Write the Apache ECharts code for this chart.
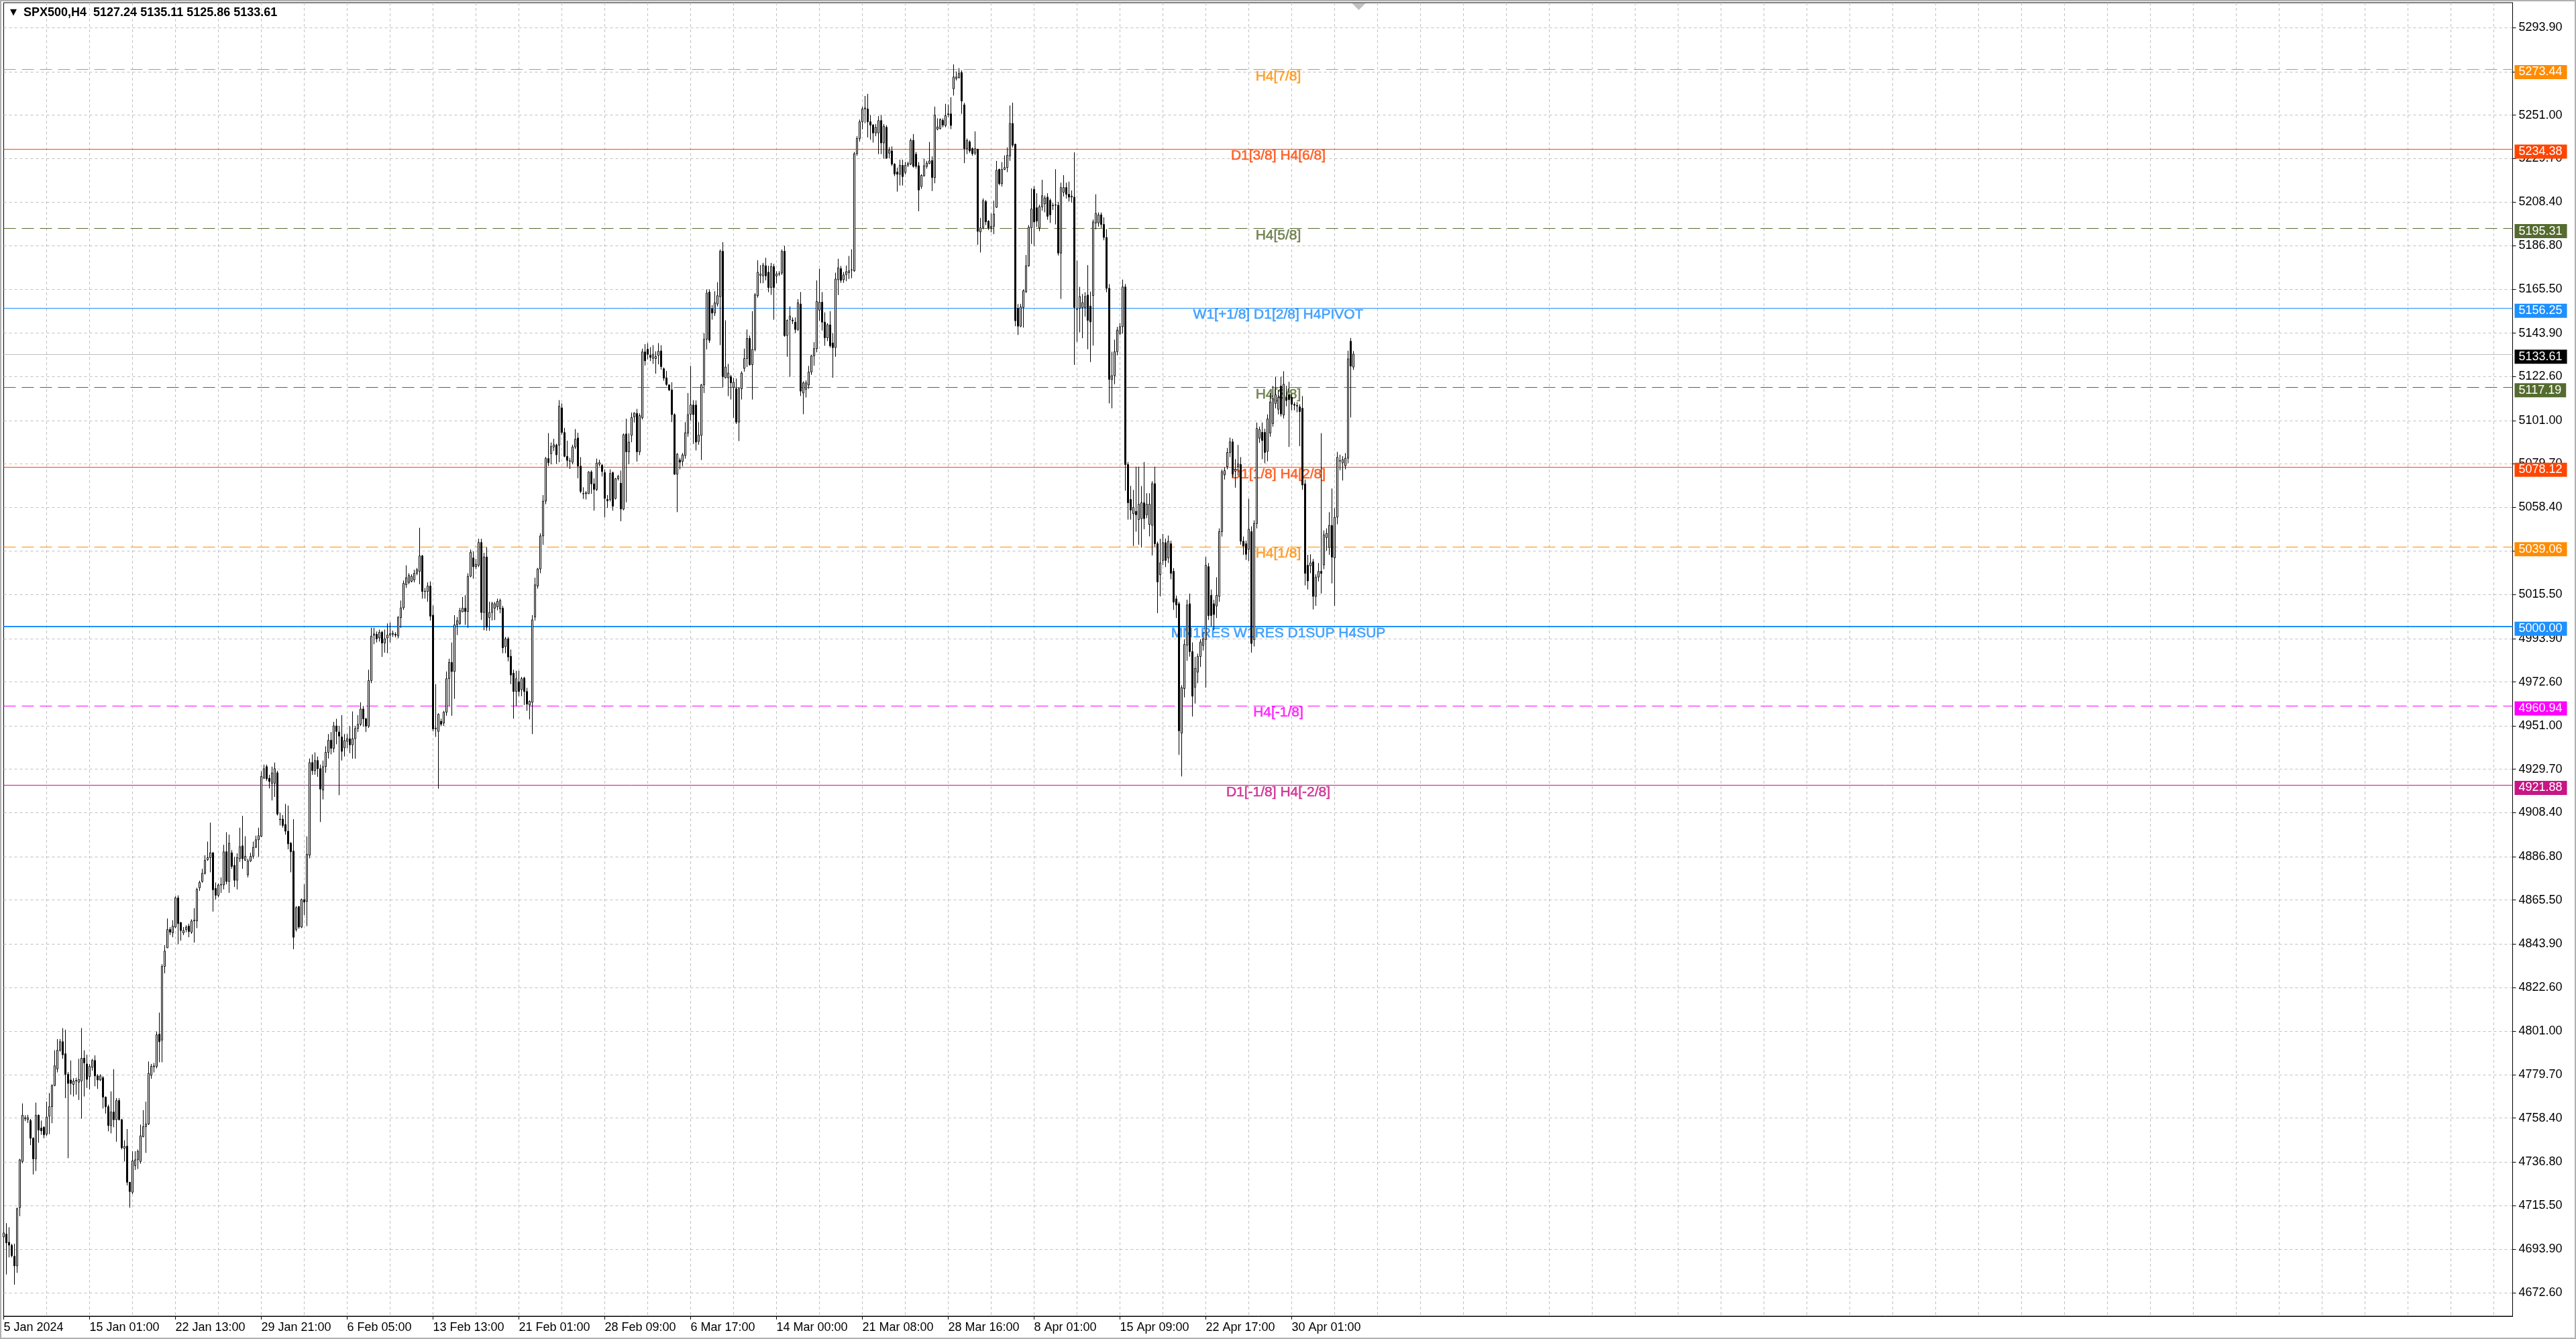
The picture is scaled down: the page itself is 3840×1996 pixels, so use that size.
<!DOCTYPE html>
<html>
<head>
<meta charset="utf-8">
<script src="https://cdn.jsdelivr.net/npm/echarts@6/dist/echarts.min.js"></script>
<style>html,body{margin:0;padding:0;background:#fff}#c{width:3840px;height:1996px}</style>
</head>
<body>
<div id="c"></div>
<script>
const symbolName = 'SPX500,H4';
const dateLabels = ['5 Jan 2024','15 Jan 01:00','22 Jan 13:00','29 Jan 21:00','6 Feb 05:00','13 Feb 13:00','21 Feb 01:00','28 Feb 09:00','6 Mar 17:00','14 Mar 00:00','21 Mar 08:00','28 Mar 16:00','8 Apr 01:00','15 Apr 09:00','22 Apr 17:00','30 Apr 01:00'];
const yTicks = [4672.6,4693.9,4715.5,4736.8,4758.4,4779.7,4801.0,4822.6,4843.9,4865.5,4886.8,4908.4,4929.7,4951.0,4972.6,4993.9,5015.5,5036.8,5058.4,5079.7,5101.0,5122.6,5143.9,5165.5,5186.8,5208.4,5229.7,5251.0,5272.3,5293.9];
const levelPrices = [5273.44,5234.38,5195.31,5156.25,5117.19,5078.12,5039.06,5000.00,4960.94,4921.88];
const levelNames = ['H4[7/8]','D1[3/8] H4[6/8]','H4[5/8]','W1[+1/8] D1[2/8] H4PIVOT','H4[3/8]','D1[1/8] H4[2/8]','H4[1/8]','MN1RES W1RES D1SUP H4SUP','H4[-1/8]','D1[-1/8] H4[-2/8]'];
const levelColors = ['#FF8C00','#FF4500','#556B2F','#1E90FF','#556B2F','#FF4500','#FF8C00','#1E90FF','#FF00FF','#C71585'];
const levelDashed = [true,false,true,false,true,false,true,false,true,false];
// H4 candles: [open, close, low, high]
const candles = [
[4700,4702,4682,4722],[4701.4,4697.1,4681.6,4706.8],[4697.4,4696,4690,4704.8],[4695.9,4690.8,4690,4696.7],[4690.5,4685.8,4676.6,4696.7],[4685.8,4713.9,4682.4,4714.4],[4714.4,4737.9,4710.2,4738.4],[4737.1,4759.8,4736.2,4765.6],
[4758,4758.6,4756.9,4759.8],[4757.6,4758.6,4756,4760],[4757.2,4748.5,4745.1,4758],[4748.5,4738.4,4730.7,4749],[4738.4,4759.8,4732.4,4766],[4759.8,4752.5,4746.3,4760.2],[4753.5,4752.2,4750.2,4757.2],[4753.9,4750.2,4748.5,4754.4],
[4750.5,4758.9,4749.7,4766.5],[4759.3,4764,4750.5,4770.7],[4764,4774.4,4755.9,4775],[4774.4,4784.1,4774,4791.7],[4782.5,4791.7,4780.8,4797.2],[4791.7,4795.9,4791,4797.2],[4795.9,4789.5,4787.5,4802.6],[4790,4779.9,4768.2,4801.8],
[4779.9,4775.4,4738.7,4781],[4777.1,4775.4,4769.9,4786.7],[4774.9,4776.6,4769,4778],[4776.6,4776.9,4769.9,4778.2],[4776,4777.4,4767.3,4787.5],[4776.6,4787.8,4758.1,4802.6],[4787.8,4785.5,4769,4791.7],[4785,4777.4,4773.2,4789.5],
[4778.8,4783.8,4772.4,4785],[4783.3,4786.7,4781.6,4787.5],[4786.7,4779.1,4774,4789.2],[4779.1,4777.1,4772.7,4780],[4777.1,4779.1,4776.6,4779.9],[4778.2,4768.7,4763.1,4779],[4768.7,4764,4760.6,4769],[4764,4754.7,4751.9,4765],
[4754.7,4761.4,4750.9,4771.5],[4761.4,4757.6,4753.9,4782.4],[4757.6,4767,4746.8,4768.2],[4767,4757.6,4757.2,4768.2],[4757.6,4743.8,4743,4758],[4743.5,4744.5,4737.1,4747.5],[4744.6,4726.9,4725.3,4753],[4726.9,4722.3,4714.4,4727],
[4722,4737.4,4721.1,4742.1],[4735,4737.9,4732.9,4742.1],[4737.9,4742.1,4733.4,4743],[4737.1,4749.7,4736,4755.2],[4749.2,4754.2,4749,4762.3],[4754.2,4755.5,4741.3,4766.5],[4755.5,4780.4,4755,4786.2],[4779.4,4783.8,4777.7,4785],
[4783.6,4784,4780.8,4785.5],[4783.8,4799.3,4782.8,4800.9],[4799.6,4795.9,4785.8,4810.2],[4796.7,4832.9,4785.8,4834],[4832.9,4840.4,4829.5,4843.3],[4842,4851,4842,4856.4],[4851,4849.7,4848.3,4852.2],[4849.4,4852.7,4847.2,4855.6],
[4852.2,4866.5,4851.7,4867.3],[4866.5,4853.9,4843.8,4867.8],[4854.4,4850.5,4845.5,4854.7],[4849.4,4850.5,4848.3,4852.2],[4851,4852.2,4849.7,4853.1],[4852.7,4850,4847.2,4853.9],[4849.7,4855.2,4848.9,4856],[4855.2,4855.6,4844.6,4861.5],
[4855.2,4870.7,4851.7,4871.5],[4871.5,4874.1,4870,4875],[4874.6,4878.6,4874,4880.8],[4878.6,4885,4878,4887.5],[4885.3,4886.3,4884.7,4894.2],[4886.3,4888.7,4879.1,4903.5],[4888.7,4870.5,4859.8,4889],[4871.2,4867.8,4865.7,4874.1],
[4867.8,4872.9,4866.8,4873.5],[4872.9,4873.1,4869,4876.6],[4872.9,4889.2,4870.7,4892.6],[4889.2,4874.6,4873.2,4898.8],[4874.6,4893.4,4869,4897.6],[4888.7,4882,4880.8,4890],[4882.5,4875.2,4871.9,4886.7],[4875.2,4886.3,4870.7,4888.4],
[4885.8,4891.7,4884.2,4901],[4892.1,4885.8,4880.8,4906.8],[4885,4887,4884.7,4896.8],[4877.9,4884.7,4876.6,4885.8],[4884.7,4887,4884.2,4888.7],[4887,4891.4,4885.8,4894.2],[4891.4,4895.1,4891,4897.1],[4895.1,4897.1,4886.7,4901],
[4896.8,4926.2,4896.4,4928.7],[4925.3,4930,4925,4932],[4931,4925,4924,4932],[4925.3,4923.7,4920.3,4927],[4922.8,4927.9,4914.4,4931],[4922.8,4930,4916.1,4933],[4928,4907.7,4907,4929],[4905.2,4905,4902.1,4908.5],
[4905.2,4902.1,4901,4907.2],[4902.6,4899.3,4897.6,4912.7],[4899.3,4893.1,4890.4,4911.9],[4893.4,4889.2,4879.1,4894],[4889.5,4847.2,4841.3,4905.2],[4851,4861.8,4850,4862.5],[4862.3,4852.2,4851.4,4862.5],[4852.2,4865.7,4851.7,4866.2],
[4865.7,4864.5,4858.1,4873.2],[4864.8,4888,4852.7,4896.8],[4887.5,4933,4886,4935],[4933,4929,4927,4937],[4929,4934,4927,4938],[4934,4930,4926,4936],[4930,4920,4903.8,4932],[4919.5,4931,4914.9,4934],
[4931,4938,4928,4941],[4938,4944,4935,4947],[4944,4940,4937,4948],[4940,4951,4938,4953],[4951,4948.3,4942,4954.5],[4948,4946,4917,4951],[4945.6,4938.5,4934,4956.3],[4940.2,4943.8,4936,4947],
[4943.4,4944.7,4940,4947],[4944.7,4941.7,4937.6,4950.9],[4941.7,4944.7,4934.9,4958.1],[4944.7,4949.7,4934.9,4951],[4949.7,4951.8,4948,4956.3],[4951.8,4959.3,4951,4962.6],[4959.3,4954.5,4950.6,4960.8],[4954.5,4950.9,4948,4955],
[4950.9,4973.3,4950,4978.6],[4973.3,4995.1,4972,4999.2],[4995.5,4996.2,4991.1,4999.2],[4996,4993.8,4992,4997.4],[4994.2,4997,4992.4,4998.3],[4997,4991.7,4984.9,4997.7],[4991.7,4993.8,4987,4998.3],[4994.2,4995.6,4986.7,5001.3],
[4995.6,4996.3,4992,5001.8],[4996,4996.5,4994.7,4997.8],[4996,4995.6,4994.5,4997],[4995.2,5004.2,4994,5005],[5004.2,5009,4999.2,5012.6],[5009,5021,5008,5022.4],[5020.3,5023.8,5018.8,5029.9],[5021.5,5024.9,5020.6,5026],
[5022,5024.5,5021.5,5025.5],[5022.7,5025.9,5021.5,5027.7],[5026,5027.7,5025,5028.6],[5026.9,5034.5,5020.6,5048.3],[5034.5,5017,5013.5,5035],[5017,5017.2,5013.5,5018.8],[5017,5019.7,5012,5021.5],[5019.7,5004.9,5002.7,5022],
[5005.4,4949.5,4948.3,5010.2],[4949.5,4950,4945.6,4971.5],[4948.3,4956.7,4920.2,4957.2],[4953.3,4951.8,4950.9,4954.6],[4952.4,4957.7,4951,4958.4],[4957.7,4974.2,4956,4977.7],[4974.2,4982.2,4960.8,4984],[4982.2,4977.7,4956,4992],
[4977.7,5000.6,4964.3,5005.4],[5000.6,5002.7,4995.6,5004.5],[5001.3,5007.7,5000.6,5009],[5007,5008.8,5007,5014.3],[5008.8,5007.2,5000.6,5015.2],[5007.2,5024.5,4999.2,5026],[5024.5,5036.3,5024,5037.6],[5033.5,5029.2,5023.3,5036.7],
[5029.2,5030.4,5028,5033],[5029.9,5041.1,5029,5042.9],[5041.1,5006.7,5003.1,5042.9],[5006.7,5034,4998,5036],[5034,4999.5,4997.7,5038.8],[5004.2,5006.7,4997.7,5012],[5006.7,5011.1,5002.8,5012],[5008.8,5011,5003,5011.9],
[5009.5,5012.2,5007.8,5013.5],[5008.5,5012.6,5006.3,5013.5],[5008.8,4989.4,4986.7,5009.9],[4989.9,4993.8,4986.7,4994.7],[4993.8,4984.9,4982.7,4994.7],[4985.2,4976,4971.5,4988.5],[4976.9,4967.9,4954.5,4978.6],[4967.9,4974.2,4960.8,4978.1],
[4972.7,4967.9,4965.6,4978.1],[4968.8,4974.2,4965.6,4975.1],[4974.5,4967.9,4961.3,4975.1],[4967.9,4961.7,4958.4,4969.7],[4961.3,4963.1,4954.2,4963.5],[4962.6,5003.1,4947,5005.4],[5004.5,5020.3,5002.7,5023.8],[5019.7,5028.1,5018.4,5028.6],
[5028.1,5044.3,5026,5045.6],[5044.3,5061.4,5039.9,5064.4],[5061.4,5082.3,5059.9,5083.1],[5082.3,5080.3,5078.6,5094.8],[5084.7,5088.2,5079.5,5090.2],[5088,5089.1,5086,5092],[5088.9,5084.1,5079.7,5089.6],[5088.9,5108,5080.5,5111],
[5107.2,5095.1,5094,5109.4],[5095.1,5083.4,5083,5097.4],[5083.4,5081.4,5078.3,5091.1],[5081.2,5081.1,5077.2,5082.7],[5080.5,5088,5079.5,5089.1],[5088,5091.8,5087,5096.8],[5092.4,5078.6,5072.6,5095],[5078.6,5066.2,5065.3,5083],
[5065.1,5065,5062.5,5068.2],[5065,5065.5,5062.2,5066.3],[5065.1,5075.7,5064.9,5076.1],[5075.7,5069.9,5065,5076.5],[5069.9,5067.1,5056.7,5072.6],[5067.1,5080.1,5066.4,5082.3],[5079.5,5080.3,5078.5,5081.7],[5079,5075.9,5073.5,5079.7],
[5075.4,5062.7,5053.4,5077],[5062.2,5061.6,5058.1,5064.4],[5062.2,5075,5061.2,5077],[5075.4,5058.9,5056.7,5075.9],[5062.7,5072.4,5062.2,5072.8],[5072.4,5073.6,5071.5,5074.3],[5070.2,5057.5,5051.5,5076.4],[5057.5,5094,5056.9,5094.6],
[5094.4,5085.6,5060.8,5101.9],[5085.6,5090.4,5079.5,5094.7],[5093.7,5102.5,5090.3,5104.9],[5102.8,5104.7,5100,5105],[5104.5,5085.6,5080.8,5106.7],[5085.6,5103.4,5084,5104.5],[5102.3,5134.7,5101.5,5136.3],[5134.7,5130.3,5128,5138.5],
[5136,5133.5,5131,5139],[5133,5132,5130.2,5137],[5131.5,5133.5,5128.8,5138],[5131.4,5132.4,5124,5135],[5133,5135,5128.6,5139],[5135.2,5127.5,5126,5138],[5126.4,5121.8,5120.5,5127],[5122,5118.7,5118,5125.3],
[5118.5,5116,5115.5,5118.7],[5116,5103.9,5100.2,5119.8],[5103.9,5074.6,5074.3,5104.5],[5074.6,5084.5,5056,5085],[5081.6,5080.5,5077,5082.7],[5080.9,5084.1,5078.5,5085],[5083.8,5095,5082.3,5100.2],[5094.8,5103.9,5093,5114.5],
[5104,5108.7,5101,5127.8],[5108.6,5103.9,5089.5,5111],[5108.6,5090.4,5086.3,5110.9],[5090.7,5093.8,5089.1,5100.2],[5093.7,5118.5,5081.6,5118.9],[5118.5,5140.9,5114.5,5143.9],[5140.9,5163.6,5135.9,5165.4],[5164.1,5140.4,5139.1,5165.4],
[5155.9,5153.8,5150.5,5157.7],[5153.8,5158.8,5152.3,5164.5],[5158.2,5162.3,5157,5168.9],[5161.8,5184.1,5138,5185],[5184.1,5122.5,5117.1,5188.6],[5122,5127.3,5121.6,5150.2],[5122,5124.3,5113,5128.8],[5122.5,5119.5,5111.3,5123.4],
[5117.3,5119.8,5102.3,5121.9],[5116.6,5100.2,5099.3,5121.6],[5100.2,5116.6,5090.9,5117.2],[5116.6,5124.3,5111.3,5125.2],[5126.6,5131.4,5125,5136.3],[5131.4,5141.3,5127.3,5145.7],[5141.3,5128.4,5127.9,5142.7],[5128.4,5135.9,5111.3,5154.7],
[5135.9,5162.7,5135,5163.6],[5162.3,5173.8,5161.3,5179.7],[5172.3,5172.9,5168.4,5177.3],[5172,5177.3,5168.4,5178.4],[5177,5172,5169.8,5180.9],[5173.8,5166.3,5164,5177],[5166.3,5176.6,5162.7,5178.4],[5176.6,5166.3,5150.5,5177.9],
[5172,5173,5168.4,5174.3],[5173,5173.1,5172,5174.3],[5173.4,5184.1,5172.5,5185],[5184.1,5142.7,5142.1,5186.8],[5142.7,5150.2,5132.3,5150.6],[5150.6,5152.3,5122.5,5157],[5150.3,5149.9,5148.4,5151.6],[5149.3,5145.7,5143.9,5151.6],
[5145.7,5158.8,5145,5160.6],[5158.2,5115.4,5113,5164.1],[5114.5,5119.5,5104.1,5120.2],[5116.3,5119.5,5112.3,5120.7],[5118.4,5124.8,5116.6,5127.8],[5124.8,5132.7,5123.4,5133.2],[5132.7,5136.3,5127.9,5139.5],[5136.3,5159.5,5134.5,5169.8],
[5155.2,5159.1,5150,5175.5],[5159.1,5149.3,5145.2,5164.1],[5149.3,5141.6,5137.7,5154.1],[5141.6,5148,5140,5148.8],[5148,5137.7,5136.8,5154.7],[5139.1,5136.8,5122,5143.9],[5136.8,5170.5,5132.3,5173.6],[5170.1,5176,5162.6,5180.4],
[5175.6,5169.8,5168.6,5176.9],[5170.1,5172.5,5168.6,5173.9],[5172.7,5174.1,5169.4,5177.1],[5173.6,5174.5,5170.5,5181.8],[5174.9,5175,5170.9,5185.1],[5174.5,5232,5174,5232.9],[5232,5239.5,5231,5240.6],[5239.5,5247.7,5238,5248.8],
[5247.7,5254,5244,5255.1],[5254,5254.5,5247,5260.4],[5254,5247.7,5240,5261.4],[5247.7,5246.1,5238.9,5251],[5246.1,5242.2,5237.5,5246.6],[5242.2,5245,5240.6,5246.6],[5242.2,5248.3,5231.8,5250.5],[5248.3,5237.3,5231.8,5251],
[5237.3,5245.5,5229.6,5246.6],[5245,5229.8,5229.6,5246],[5232.3,5233.8,5229.8,5235.3],[5233.4,5226.9,5226,5235.6],[5226.9,5222.1,5221,5227.4],[5223,5221.9,5213.4,5225.2],[5221.9,5226.3,5216.4,5229.1],[5226.3,5220.8,5216.4,5229.1],
[5222.8,5226.3,5221.9,5228],[5226.4,5227.2,5225.5,5228.1],[5226.9,5238.6,5226.4,5239.5],[5238.6,5225.8,5225.2,5241.7],[5231.8,5225.8,5224.7,5232.9],[5226.1,5214.2,5203.8,5227.9],[5215.9,5221.4,5214.8,5221.9],[5221.1,5226.1,5220.8,5229.6],
[5225.8,5227.4,5224.7,5228.5],[5227.2,5228.5,5226.9,5237.8],[5228.7,5220.3,5213.7,5230.7],[5220.3,5251,5217.5,5255.1],[5244.1,5245.2,5243.5,5249.4],[5244.4,5248.8,5243.9,5249.4],[5248.5,5246.1,5245,5249.4],[5245.9,5250.7,5245,5256.5],
[5251.2,5251.6,5250,5256.2],[5251.6,5245.9,5244.1,5259.8],[5263.9,5269.7,5260.6,5275.9],[5268.9,5269.7,5268,5272.4],[5269.4,5271.5,5268.9,5274.1],[5271.9,5257.9,5251.6,5273],[5256,5234.5,5227.4,5257],[5234.5,5238.6,5231.8,5239.5],
[5237.8,5233.4,5232.5,5238.6],[5234.5,5232,5231,5235.1],[5232.3,5234.5,5231.3,5243],[5234.2,5193.9,5187.3,5234.5],[5193.6,5195.6,5183.5,5200.5],[5195.8,5209,5194.9,5210.1],[5208.5,5198.6,5197,5209.3],[5198.9,5195.6,5194.6,5199.4],
[5195.6,5196.4,5193.4,5202.7],[5196.4,5202.4,5192.5,5209],[5205.7,5223.9,5205.4,5228.5],[5224.3,5217.3,5216.5,5224.7],[5217.3,5224.3,5215.9,5227.9],[5224.3,5225.2,5224,5231.2],[5225.2,5231.2,5223,5235.1],[5230.9,5246.9,5228.5,5255.7],
[5246.9,5236.2,5235.1,5257.1],[5236.7,5150,5147.3,5237],[5156.1,5147.3,5143,5158.2],[5147.3,5156.8,5146.8,5158.3],[5156.5,5164.7,5146.6,5165.4],[5164.3,5177,5163.5,5182.3],[5177,5195.9,5176.5,5197],[5195.7,5204.9,5187.7,5215],
[5214.5,5198.5,5186.7,5216.1],[5205.5,5198.9,5196,5212.6],[5195.6,5206,5194,5207],[5205.9,5211.4,5204,5219.2],[5207.4,5210.3,5203.2,5211.5],[5210.7,5201.3,5199.6,5212.6],[5209.1,5202,5198,5210],[5206.7,5206.5,5204.4,5207.9],
[5206.7,5206.9,5197.3,5224.4],[5206.7,5183.2,5182,5208.4],[5183.2,5215.4,5160.7,5217.8],[5213.1,5215.4,5211,5221.5],[5215.4,5212.1,5210,5217.8],[5212.1,5210.7,5208.5,5218.3],[5210.7,5211.2,5208,5214],[5210.7,5156.5,5128.3,5232.7],
[5155.6,5155.5,5139.6,5179.6],[5156.1,5161.9,5144.3,5166.6],[5156.5,5158.9,5141.4,5163.1],[5156.5,5161.9,5152,5164],[5162.6,5150.2,5136,5177.3],[5157.2,5149.4,5129.7,5164.3],[5162.4,5198.5,5137.8,5199.7],[5198,5202.7,5194.9,5212.1],
[5198,5202,5196.2,5203.2],[5202,5197.3,5195.6,5203.2],[5197.3,5190.9,5189.5,5200.8],[5190.9,5165.9,5164,5195],[5165.9,5121.2,5109.4,5168],[5121.2,5123,5107,5134.8],[5123,5134.8,5118.8,5140.7],[5134.8,5145.4,5133,5147],
[5143.7,5147.1,5143,5148.9],[5147.1,5166.6,5143.7,5170.2],[5166.6,5079.4,5066.5,5168],[5079.4,5060.6,5052.3,5080.6],[5062.2,5057,5052.3,5068.9],[5055.2,5058.3,5039.4,5066.9],[5056.4,5054.7,5046.4,5078.3],[5052.3,5059.9,5040,5078.3],
[5052.8,5060.6,5038.6,5068.8],[5060.6,5052.8,5047.6,5080.6],[5054.7,5059.9,5053,5065.3],[5049.9,5059.9,5044.1,5065.3],[5049.5,5070,5034.7,5071.2],[5070,5040.5,5039,5078.3],[5040.5,5021.7,5006.4,5041.5],[5025.2,5031.1,5014.6,5042.9],
[5032.3,5041,5030,5045.3],[5041,5032.3,5029,5043],[5033.5,5041.7,5031,5044.5],[5040.5,5025.9,5023,5042],[5026.9,5011.8,5008,5028.5],[5013.4,5010.4,5004,5015],[5011,4948.6,4936.8,5012],[4947.4,4969.8,4926.2,4971],
[4969.3,4991,4965,4993.5],[4990.6,5010.4,4983,5013],[5011,4987.5,4985,5016],[4987.5,4965.6,4955.6,4992],[4970,4979.3,4962,4985],[4977.4,4985.1,4972,4986.5],[4985.1,4992.2,4980,4993.5],[4990.5,4993.8,4988,4997],
[4993.4,5029.9,4969.8,5034],[5029.2,5005.2,5003,5031],[5015.1,5005.2,5000,5018],[5011,5005.7,4998,5013],[5009.9,5015.1,5004,5024],[5014.6,5046.4,5012,5048],[5046.4,5075.9,5044,5077],[5074.3,5076.4,5072,5078],
[5078.3,5085.3,5077,5087.5],[5085.3,5090.5,5083,5092.6],[5090.5,5074.7,5073,5092],[5076,5077,5068,5082],[5078.3,5079.7,5074,5089],[5079.4,5041.7,5040,5083],[5041.7,5039.3,5035,5044],[5040.5,5035.3,5032.5,5042],
[5037.7,5047.6,5032,5062.5],[5046.4,4991.5,4987,5049],[4993.4,5050.4,4990,5052],[5050.4,5097.1,5048,5100],[5092.3,5096.6,5090,5098],[5095.2,5091.2,5082,5100],[5095.2,5085.3,5080,5097],[5085.8,5101.8,5081,5104],
[5094.8,5110.1,5093,5114.5],[5099.5,5111.7,5098,5118],[5109.4,5113.6,5107,5122.5],[5106.5,5112.4,5104,5116],[5117.9,5104.2,5103,5122.5],[5103.7,5118.8,5102,5125.2],[5112.4,5110.8,5108,5118],[5113.6,5111.2,5088,5120],
[5112.4,5108.9,5106,5114],[5108.9,5108.5,5106,5110],[5108.4,5108.1,5105,5110],[5107.7,5105.4,5088.4,5109],[5107,5069.3,5067,5113],[5069.9,5025.9,5020,5072],[5029.9,5022.2,5018,5035],[5029.6,5031.1,5026,5035.3],
[5031.6,5014.6,5008.2,5033],[5014.6,5024.1,5010,5025.5],[5024.1,5026.9,5022,5031],[5026.9,5025.9,5016,5094.8],[5030.1,5044.9,5028,5047],[5043.5,5045.6,5037,5048],[5038.6,5049.5,5035,5056],[5049.5,5033.9,5021,5067.6],
[5033.5,5053.5,5010,5058],[5053.5,5082.9,5050,5085.6],[5081.1,5081.3,5076.5,5084.2],[5080.2,5081.8,5071.5,5083.5],[5078.8,5082.5,5077,5085],[5082.5,5131.3,5080,5135.3],[5139.9,5127.7,5102.5,5141.5],[5127.24,5133.61,5125.86,5135.11]
];

const FONT = '"Liberation Sans", Arial, sans-serif';
const slotCount = 936;             // bar slots across the plot (4px each)
const labelSlot = 475;             // where the level captions sit
const slots = Array.from({length: slotCount}, (_, i) => String(i));
const last = candles[candles.length - 1];
const header = symbolName + '  ' + [last[0], last[3], last[2], last[1]].map(v => v.toFixed(2)).join(' ');

const chart = echarts.init(document.getElementById('c'), null, {renderer: 'canvas', width: 3840, height: 1996});

function boxLabel(text, bg) {
  return {show: true, position: 'end', distance: 3, offset: [0, 4], formatter: text, color: '#fff',
          backgroundColor: bg, padding: [2, 7, 1, 6], fontSize: 18, fontFamily: FONT};
}
const lineData = levelPrices.map((p, k) => ({
  yAxis: p,
  lineStyle: {color: levelColors[k], width: p === 5000 ? 2 : 1, type: levelDashed[k] ? [18, 9] : 'solid', opacity: 1},
  label: boxLabel(p.toFixed(2), levelColors[k])
}));
lineData.push({
  yAxis: last[1],
  lineStyle: {color: '#c0c0c0', width: 1, type: 'solid', opacity: 1},
  label: boxLabel(last[1].toFixed(2), '#000')
});

const captionData = levelPrices.map((p, k) => ({
  value: [labelSlot, p],
  label: {show: true, formatter: levelNames[k], color: levelColors[k], textBorderColor: levelColors[k], textBorderWidth: 0.6}
}));

chart.setOption({
  animation: false,
  backgroundColor: '#fff',
  textStyle: {fontFamily: FONT},
  title: {
    left: 10, top: 5,
    text: '{t|▼}  {s|' + header + '}',
    textStyle: {rich: {
      t: {fontFamily: 'DejaVu Sans', fontSize: 13, color: '#000'},
      s: {fontFamily: FONT, fontSize: 18, color: '#000'}
    }}
  },
  grid: {left: 5.5, right: 94.5, top: 4, bottom: 34, show: true, borderColor: '#000', borderWidth: 1, backgroundColor: '#fff'},
  xAxis: {
    type: 'category', data: slots, boundaryGap: false,
    axisLine: {show: true, lineStyle: {color: '#000', width: 1}},
    axisTick: {show: true, length: 5, interval: (i) => i % 32 === 0 && i < candles.length, lineStyle: {color: '#000'}},
    axisLabel: {show: true, interval: (i) => i % 32 === 0 && i < candles.length,
      formatter: (v, i) => dateLabels[Math.round(i / 32)] || '', align: 'left', margin: 8,
      fontSize: 18, color: '#000', fontFamily: FONT},
    splitLine: {show: true, interval: (i) => i % 16 === 0 && i > 0, lineStyle: {color: '#c0c0c0', width: 1, type: [4, 4]}}
  },
  yAxis: {
    type: 'value', position: 'right', min: 4661.1, max: 5306.2, scale: true,
    axisLine: {show: true, lineStyle: {color: '#000', width: 1}},
    axisTick: {show: true, length: 5, customValues: yTicks, lineStyle: {color: '#000'}},
    axisLabel: {show: true, customValues: yTicks, formatter: (v) => v.toFixed(2), align: 'left', margin: 9,
      fontSize: 18, color: '#000', fontFamily: FONT},
    splitLine: {show: true, lineStyle: {color: '#c0c0c0', width: 1, type: [4, 4]}}
  },
  series: [
    {
      type: 'scatter', name: 'levels', z: 1, silent: true, symbolSize: 0,
      data: captionData,
      label: {show: true, position: 'bottom', distance: 0, fontSize: 21, fontFamily: FONT},
      markLine: {silent: true, z: 1, symbol: ['none', 'none'], animation: false, data: lineData}
    },
    {
      type: 'candlestick', name: symbolName, z: 3, silent: true, clip: false, barWidth: 2,
      data: candles,
      itemStyle: {color: '#ffffff', color0: '#000000', borderColor: '#000000', borderColor0: '#000000', borderColorDoji: '#000000', borderWidth: 1}
    }
  ]
});

const shiftX = chart.convertToPixel({xAxisIndex: 0}, candles.length + 0.5);
chart.setOption({
  graphic: [
    {type: 'rect', silent: true, z: 100, shape: {x: 1, y: 1, width: 3838, height: 1994}, style: {fill: 'none', stroke: '#b0b0b0', lineWidth: 2}},
    {type: 'polygon', silent: true, z: 100, shape: {points: [[shiftX - 10, 5], [shiftX + 10, 5], [shiftX, 15]]}, style: {fill: '#c0c0c0'}}
  ]
});
</script>
</body>
</html>
